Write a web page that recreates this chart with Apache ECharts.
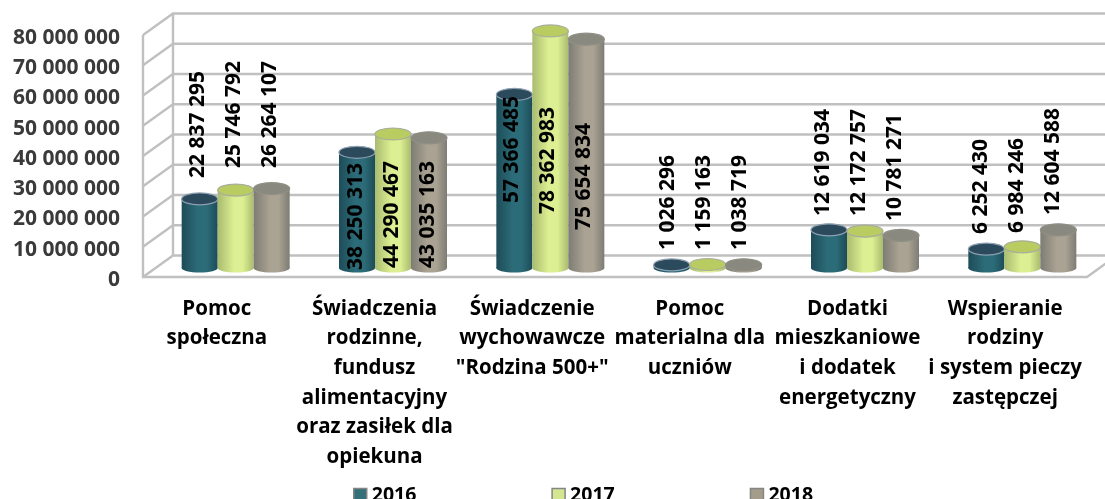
<!DOCTYPE html>
<html><head><meta charset="utf-8">
<style>html,body{margin:0;padding:0;background:#fff}#c{width:1105px;height:499px}</style>
<script src="https://cdn.jsdelivr.net/npm/echarts@6/dist/echarts.min.js"></script>
</head><body><div id="c"></div>
<script>
const categories = ['Pomoc\nspołeczna','Świadczenia\nrodzinne,\nfundusz\nalimentacyjny\noraz zasiłek dla\nopiekuna','Świadczenie\nwychowawcze\n"Rodzina 500+"','Pomoc\nmaterialna dla\nuczniów','Dodatki\nmieszkaniowe\ni dodatek\nenergetyczny','Wspieranie\nrodziny\ni system pieczy\nzastępczej'];
const values2016 = [22837295,38250313,57366485,1026296,12619034,6252430];
const values2017 = [25746792,44290467,78362983,1159163,12172757,6984246];
const values2018 = [26264107,43035163,75654834,1038719,10781271,12604588];
const yTicks = [0,10000000,20000000,30000000,40000000,50000000,60000000,70000000,80000000];
const seriesNames = ['2016','2017','2018'];

const labelLift = [[90,-2,65,18,52,34],[100,0,54,18,52,35],[100,0,38,18,47,53]];
const labelNudge = [-1,0,-1,-3,-5,-4];
const palettes = [
 {edge:'#1d4c58',mid:'#2b6c78',top:'#2b4a5c',rim:'#8d9fb0',legend:'#33707a'},
 {edge:'#a9bb6f',mid:'#dcef92',top:'#b9cc62',rim:'#a9ad9c',legend:'#d4e68f'},
 {edge:'#7d7c74',mid:'#aaa292',top:'#8a897f',rim:'#8f8f86',legend:'#a49c8b'}
];
const fmt = v => String(v).replace(/\B(?=(\d{3})+(?!\d))/g,' ');
const FONT = '"Open Sans", Lato, sans-serif';
const WALL = '#c0c0c0';
const DX = 30, DY = -21.5, BAR_W = 36, RY = 6;

function cylinder(s){
  return function(params, api){
    const i = api.value(0), v = api.value(1);
    const p = palettes[s];
    const base = api.coord([i,0]), top = api.coord([i,v]);
    const cx = base[0] + (s-1)*BAR_W;
    const rx = BAR_W/2;
    const grad = {type:'linear',x:0,y:0,x2:1,y2:0,colorStops:[{offset:0,color:p.edge},{offset:.45,color:p.mid},{offset:.7,color:p.mid},{offset:1,color:p.edge}]};
    return {type:'group',children:[
      {type:'ellipse',shape:{cx:cx,cy:base[1],rx:rx,ry:RY-1.5},style:{fill:grad}},
      {type:'rect',shape:{x:cx-rx,y:top[1],width:BAR_W,height:base[1]-top[1]},style:{fill:grad}},
      {type:'ellipse',shape:{cx:cx,cy:top[1],rx:rx,ry:RY},style:{fill:p.top,stroke:p.rim,lineWidth:1.2}},
      {type:'text',x:cx-1+labelNudge[i],y:base[1]-labelLift[s][i],rotation:Math.PI/2,z2:50,
       style:{text:fmt(v),align:'left',verticalAlign:'middle',fill:'#000',font:'bold 21px '+FONT}}
    ]};
  };
}
function walls(params, api){
  const v = api.value(0);
  const f = api.coord([0,v]);
  const x0 = params.coordSys.x, x1 = x0 + params.coordSys.width;
  const line = pts => ({type:'polyline',shape:{points:pts},style:{stroke:WALL,lineWidth:2.4,fill:null}});
  const kids = [line([[x0,f[1]],[x0+DX,f[1]+DY],[x1+DX,f[1]+DY]])];
  if(v===0){
    const t = api.coord([0,yTicks[yTicks.length-1]]);
    kids.push(line([[x0,t[1]],[x0,f[1]],[x1,f[1]],[x1+DX,f[1]+DY]]));
    kids.push(line([[x0+DX,t[1]+DY],[x0+DX,f[1]+DY]]));
  }
  return {type:'group',children:kids};
}
const chart = echarts.init(document.getElementById('c'),null,{renderer:'canvas'});
const yBase = {type:'value',min:0,max:80000000,interval:10000000,splitLine:{show:false},axisLine:{show:false},axisTick:{show:false}};
const cylinderData = arr => arr.map((v,i)=>[i,v]);
const legendText = {fontFamily:FONT,fontWeight:'bold',fontSize:19.5,color:'#000'};
chart.setOption({
  animation:false,
  backgroundColor:'#fff',
  legend:{left:348,top:480,itemWidth:13,itemHeight:13,itemGap:135,icon:'rect',
    data:seriesNames.map((n,s)=>({name:n,itemStyle:{color:palettes[s].legend,borderColor:'#858585',borderWidth:1.5},textStyle:legendText})),
    textStyle:legendText},
  grid:[
    {left:143,width:944,top:35,height:242},
    {left:157,width:944,top:26,height:242},
    {left:138,width:946,top:38,height:242}
  ],
  xAxis:[
    {gridIndex:0,type:'value',min:0,max:1,show:false},
    {gridIndex:1,type:'category',data:categories,show:false},
    {gridIndex:2,type:'category',data:categories,axisLine:{show:false},axisTick:{show:false},
     axisLabel:{interval:0,margin:14,color:'#000',fontFamily:FONT,fontWeight:'bold',fontSize:20.5,lineHeight:29.7,align:'center',verticalAlign:'top'}}
  ],
  yAxis:[
    Object.assign({gridIndex:0},yBase,{axisLabel:{show:false}}),
    Object.assign({gridIndex:1},yBase,{axisLabel:{show:false}}),
    Object.assign({gridIndex:2},yBase,{axisLabel:{margin:18,color:'#3a3a3a',fontFamily:FONT,fontWeight:'bold',fontSize:21,formatter:fmt}})
  ],
  series:[
    {type:'custom',name:'walls',xAxisIndex:0,yAxisIndex:0,clip:false,silent:true,renderItem:walls,encode:{y:0},data:yTicks.map(v=>[v]),z:1},
    ...[values2016,values2017,values2018].map((arr,s)=>({
      type:'custom',name:seriesNames[s],xAxisIndex:1,yAxisIndex:1,clip:false,
      itemStyle:{color:palettes[s].legend},
      renderItem:cylinder(s),encode:{x:0,y:1},data:cylinderData(arr),z:5+s
    }))
  ]
});
</script></body></html>
